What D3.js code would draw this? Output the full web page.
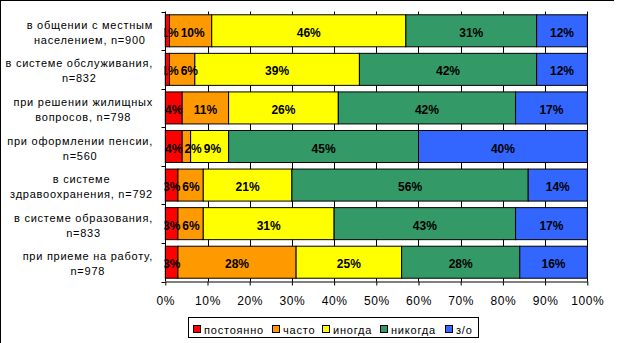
<!DOCTYPE html>
<html><head><meta charset="utf-8">
<script src="https://cdn.jsdelivr.net/npm/d3@7"></script>
<style>body{margin:0;background:#fff}svg{display:block;font-family:"Liberation Sans",Arial,sans-serif}</style>
</head><body><svg id="c" width="617" height="343"></svg>
<script>
const categories = [
  ["в общении с местным", "населением, n=900"],
  ["в системе обслуживания,", "n=832"],
  ["при решении жилищных", "вопросов, n=798"],
  ["при оформлении пенсии,", "n=560"],
  ["в системе", "здравоохранения, n=792"],
  ["в системе образования,", "n=833"],
  ["при приеме на работу,", "n=978"]
];
const seriesNames = ["постоянно", "часто", "иногда", "никогда", "з/о"];
const seriesColors = ["#FF0000", "#FF9900", "#FFFF00", "#339966", "#3366FF"];
const postoyanno = [1, 1, 4, 4, 3, 3, 3];
const chasto     = [10, 6, 11, 2, 6, 6, 28];
const inogda     = [46, 39, 26, 9, 21, 31, 25];
const nikogda    = [31, 42, 42, 45, 56, 43, 28];
const zo         = [12, 12, 17, 40, 14, 17, 16];
const xTicks = [0,10,20,30,40,50,60,70,80,90,100];

const series = [postoyanno, chasto, inogda, nikogda, zo];
const rows = categories.map((c,i)=>{const o={i};seriesNames.forEach((s,j)=>o[s]=series[j][i]);return o;});
const stack = d3.stack().keys(seriesNames)(rows);

const svg = d3.select("#c");
const x = d3.scaleLinear().domain([0,100]).range([165.3,587.3]);
const y = d3.scaleBand().domain(d3.range(categories.length)).range([11.5,281.5]).paddingInner(0.17).paddingOuter(0.085);

svg.append("clipPath").attr("id","pc").append("rect").attr("x",164.5).attr("y",0).attr("width",440).attr("height",290);

// outer frame (top & left)
svg.append("line").attr("x1",0).attr("x2",614).attr("y1",0.5).attr("y2",0.5).attr("stroke","#000");
svg.append("line").attr("x1",0.5).attr("x2",0.5).attr("y1",0).attr("y2",343).attr("stroke","#000");

// gridlines
svg.append("g").selectAll("line").data(xTicks.slice(1)).join("line")
  .attr("x1",d=>Math.round(x(d))+0.5).attr("x2",d=>Math.round(x(d))+0.5)
  .attr("y1",11.5).attr("y2",281.5).attr("stroke","#000");

// bars
const g = svg.append("g");
stack.forEach((layer,j)=>{
  g.selectAll(null).data(layer).join("rect")
    .attr("x",d=>x(d[0])).attr("width",d=>x(d[1])-x(d[0]))
    .attr("y",(d,i)=>y(i)).attr("height",y.bandwidth())
    .attr("fill",seriesColors[j]).attr("stroke","#000").attr("stroke-width",1);
});

// data labels (kept apart like the original renderer does)
const tg = svg.append("g").attr("clip-path","url(#pc)");
rows.forEach((r,i)=>{
  let prevRight = -Infinity;
  stack.forEach((layer,j)=>{
    const d = layer[i];
    const t = tg.append("text").attr("text-anchor","middle").attr("font-size",12).attr("font-weight","bold")
      .attr("y",y(i)+y.bandwidth()/2+6).text((d[1]-d[0])+"%");
    const w = t.node().getComputedTextLength();
    let cx = (x(d[0])+x(d[1]))/2;
    if (j===0) cx = Math.max(cx, 170);
    if (cx - w/2 < prevRight + 2) cx = prevRight + 2 + w/2;
    prevRight = cx + w/2;
    t.attr("x",cx);
  });
});

// x axis
const xa = svg.append("g").attr("transform","translate(0,281.5)")
  .call(d3.axisBottom(x).tickValues(xTicks).tickFormat(d=>d+"%").tickSize(4).tickSizeOuter(0));
xa.select(".domain").attr("stroke","#000");
xa.selectAll("line").attr("stroke","#000");
xa.selectAll("text").attr("font-size",12).attr("font-family","Liberation Sans, Arial").attr("fill","#000")
  .attr("letter-spacing",0.6).attr("dy",0).attr("y",23.5);

// y axis
const ya = svg.append("g").attr("transform","translate(165.5,0)");
ya.append("line").attr("x1",0).attr("x2",0).attr("y1",11.5).attr("y2",281.5).attr("stroke","#000");
const bounds = d3.range(categories.length+1).map(i=>11.5+i*y.step());
ya.selectAll("line.t").data(bounds).join("line").attr("class","t")
  .attr("x1",-4).attr("x2",0).attr("y1",d=>Math.round(d)+0.5).attr("y2",d=>Math.round(d)+0.5).attr("stroke","#000");

// category labels
const lab = svg.append("g").attr("font-size",11).attr("letter-spacing",0.75).attr("fill","#000");
categories.forEach((lines,i)=>{
  const c = y(i)+y.bandwidth()/2;
  const t = lab.append("text").attr("text-anchor","middle");
  const ts = lines.map((l,k)=>t.append("tspan").attr("y",c-2+k*15).text(l));
  let w = 0; ts.forEach(s=>{w=Math.max(w,s.node().getComputedTextLength());});
  ts.forEach(s=>s.attr("x",153-w/2));
});

// legend
const lg = svg.append("g");
lg.append("rect").attr("x",188.5).attr("y",317.5).attr("width",290).attr("height",20).attr("fill","#fff").attr("stroke","#000");
const lx = [192.5,272,322,380,444.5];
seriesNames.forEach((s,j)=>{
  lg.append("rect").attr("x",Math.round(lx[j])+0.5).attr("y",325.5).attr("width",7).attr("height",7)
    .attr("fill",seriesColors[j]).attr("stroke","#000");
  lg.append("text").attr("x",Math.round(lx[j])+11).attr("y",334).attr("font-size",11).attr("letter-spacing",0.8).text(s);
});
</script></body></html>
